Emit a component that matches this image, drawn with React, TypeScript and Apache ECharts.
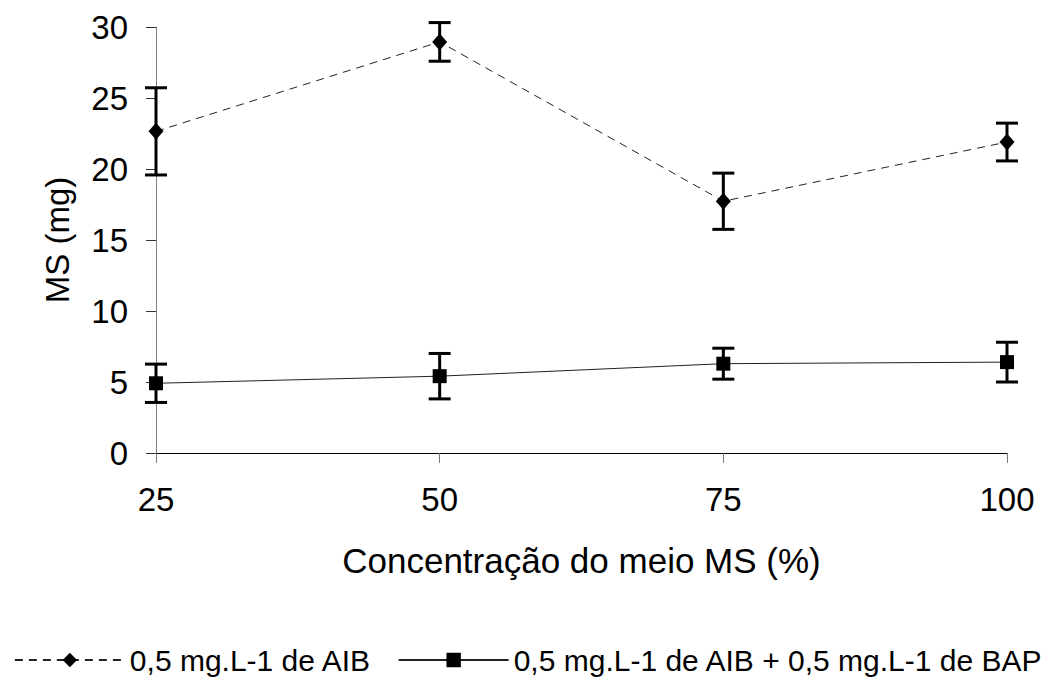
import React, { useEffect, useRef } from "react";
import * as echarts from "echarts";

const concentrations = [25, 50, 75, 100];
const aibMean = [22.65, 28.95, 17.73, 21.9];
const aibErr = [3.07, 1.36, 1.98, 1.33];
const bapMean = [4.91, 5.41, 6.29, 6.4];
const bapErr = [1.35, 1.6, 1.09, 1.4];
const xTicks = [25, 50, 75, 100];
const yTicks = [0, 5, 10, 15, 20, 25, 30];

const nameAIB = "0,5 mg.L-1 de AIB";
const nameBAP = "0,5 mg.L-1 de AIB + 0,5 mg.L-1 de BAP";
const FONT = "'Liberation Sans', Arial, sans-serif";

function errorData(means: number[], errs: number[]) {
  return concentrations.map((x, i) => [x, means[i] - errs[i], means[i] + errs[i]]);
}

function renderError(params: any, api: any) {
  const x = api.value(0);
  const lo = api.coord([x, api.value(1)]);
  const hi = api.coord([x, api.value(2)]);
  const hw = 11;
  const style = { stroke: "#000", lineWidth: 3, fill: "none" };
  return {
    type: "group",
    children: [
      { type: "line", shape: { x1: lo[0], y1: lo[1], x2: hi[0], y2: hi[1] }, style },
      { type: "line", shape: { x1: lo[0] - hw, y1: lo[1], x2: lo[0] + hw, y2: lo[1] }, style },
      { type: "line", shape: { x1: hi[0] - hw, y1: hi[1], x2: hi[0] + hw, y2: hi[1] }, style },
    ],
  };
}

export default function App() {
  const ref = useRef<HTMLDivElement>(null);
  useEffect(() => {
    document.body.style.margin = "0";
    const chart = echarts.init(ref.current!, null, { renderer: "svg" });
    chart.setOption({
      animation: false,
      backgroundColor: "#fff",
      textStyle: { fontFamily: FONT },
      grid: { left: 156, right: 50, top: 27, bottom: 230 },
      xAxis: {
        type: "value",
        min: xTicks[0],
        max: xTicks[xTicks.length - 1],
        interval: 25,
        name: "Concentração do meio MS (%)",
        nameLocation: "middle",
        nameGap: 90,
        nameTextStyle: { fontSize: 35, color: "#000", fontFamily: FONT },
        axisLine: { lineStyle: { color: "#000", width: 1 } },
        axisTick: { show: true, length: 10, lineStyle: { color: "#777" } },
        axisLabel: { fontSize: 33, color: "#000", margin: 30, fontFamily: FONT },
        splitLine: { show: false },
      },
      yAxis: {
        type: "value",
        min: yTicks[0],
        max: yTicks[yTicks.length - 1],
        interval: 5,
        name: "MS (mg)",
        nameLocation: "middle",
        nameGap: 82,
        nameTextStyle: { fontSize: 33, color: "#000", fontFamily: FONT },
        axisLine: { show: true, lineStyle: { color: "#808080", width: 1 } },
        axisTick: { show: true, length: 10, lineStyle: { color: "#333" } },
        axisLabel: { fontSize: 33, color: "#000", margin: 28, fontFamily: FONT },
        splitLine: { show: false },
      },
      legend: {
        left: "center",
        top: 645,
        padding: 0,
        itemWidth: 110,
        itemHeight: 18,
        itemGap: 26,
        textStyle: { fontSize: 30, color: "#000", fontFamily: FONT },
        data: [nameAIB, nameBAP],
      },
      series: [
        {
          type: "custom",
          name: "errAIB",
          renderItem: renderError,
          data: errorData(aibMean, aibErr),
          z: 1,
          silent: true,
        },
        {
          type: "custom",
          name: "errBAP",
          renderItem: renderError,
          data: errorData(bapMean, bapErr),
          z: 1,
          silent: true,
        },
        {
          type: "line",
          name: nameAIB,
          data: concentrations.map((x, i) => [x, aibMean[i]]),
          symbol: "diamond",
          symbolSize: [15, 17],
          itemStyle: { color: "#000" },
          lineStyle: { color: "#222", width: 1, type: [8, 6] },
          z: 3,
        },
        {
          type: "line",
          name: nameBAP,
          data: concentrations.map((x, i) => [x, bapMean[i]]),
          symbol: "rect",
          symbolSize: 14,
          itemStyle: { color: "#000" },
          lineStyle: { color: "#222", width: 1, type: "solid" },
          z: 3,
        },
      ],
    });
    return () => chart.dispose();
  }, []);
  return (
    <div
      ref={ref}
      style={{ position: "absolute", left: 0, top: 0, width: 1057, height: 683, background: "#fff" }}
    />
  );
}
